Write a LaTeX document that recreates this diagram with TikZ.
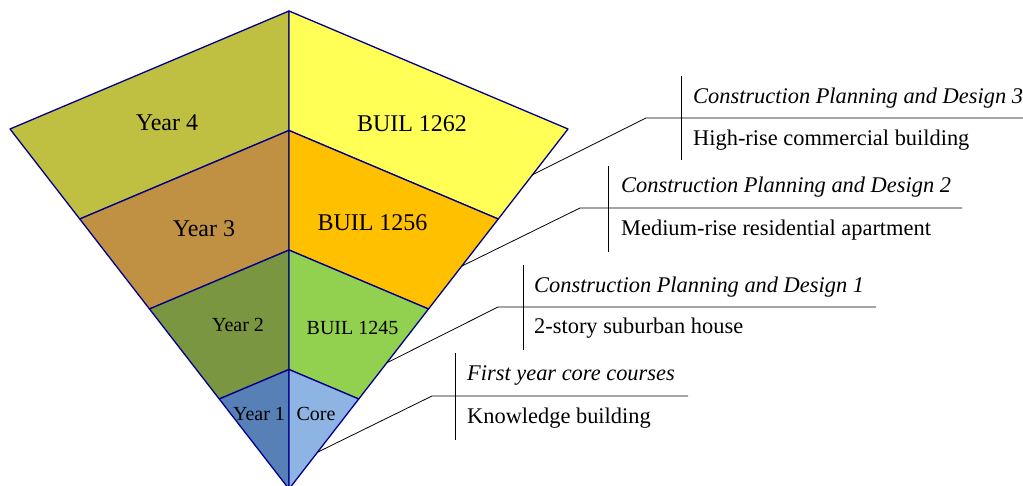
\documentclass[tikz,border=0pt]{standalone}
\usepackage{fontspec}
\setmainfont{Liberation Serif}
\usetikzlibrary{calc}
\definecolor{olive4}{RGB}{191,191,66}
\definecolor{yel4}{RGB}{255,255,85}
\definecolor{brn3}{RGB}{192,145,66}
\definecolor{org3}{RGB}{255,192,0}
\definecolor{grn2}{RGB}{122,150,64}
\definecolor{lgrn2}{RGB}{146,208,80}
\definecolor{blu1}{RGB}{86,128,182}
\definecolor{lblu1}{RGB}{142,180,227}
\definecolor{edge}{RGB}{0,0,140}
\begin{document}
\begin{tikzpicture}[x=1pt,y=-1pt,
  sect/.style={draw=edge,line width=1.3pt,line join=round},
  biglab/.style={inner sep=0pt,font=\fontsize{24}{28}\selectfont},
  smalllab/.style={inner sep=0pt,font=\fontsize{20}{24}\selectfont},
  calltext/.style={inner sep=0pt,anchor=west,font=\fontsize{22.4}{26}\selectfont},
  callline/.style={line width=0.8pt,black}]
\useasboundingbox (0,0) rectangle (1023,486);
% pyramid points
\coordinate (T) at (289,489);
\coordinate (L1) at (10,129);     \coordinate (C1) at (289,11);    \coordinate (R1) at (568,129);
\coordinate (L2) at (79.75,219);  \coordinate (C2) at (289,130.5); \coordinate (R2) at (498.25,219);
\coordinate (L3) at (149.5,309);  \coordinate (C3) at (289,250);   \coordinate (R3) at (428.5,309);
\coordinate (L4) at (219.25,399); \coordinate (C4) at (289,369.5); \coordinate (R4) at (358.75,399);
% sections
\filldraw[sect,fill=olive4] (L1) -- (C1) -- (C2) -- (L2) -- cycle;
\filldraw[sect,fill=yel4]   (R1) -- (C1) -- (C2) -- (R2) -- cycle;
\filldraw[sect,fill=brn3]   (L2) -- (C2) -- (C3) -- (L3) -- cycle;
\filldraw[sect,fill=org3]   (R2) -- (C2) -- (C3) -- (R3) -- cycle;
\filldraw[sect,fill=grn2]   (L3) -- (C3) -- (C4) -- (L4) -- cycle;
\filldraw[sect,fill=lgrn2]  (R3) -- (C3) -- (C4) -- (R4) -- cycle;
\filldraw[sect,fill=blu1]   (L4) -- (C4) -- (T) -- cycle;
\filldraw[sect,fill=lblu1]  (R4) -- (C4) -- (T) -- cycle;
% section labels
\node[biglab] (y4) at (167,123) {Year 4};
\node[biglab] (b4) at (412,124) {BUIL 1262};
\node[biglab] (y3) at (204,229) {Year 3};
\node[biglab] (b3) at (372.5,223) {BUIL 1256};
\node[smalllab] (y2) at (238,325) {Year 2};
\node[smalllab] (b2) at (352.5,328) {BUIL 1245};
\node[smalllab] (y1) at (259,414) {Year 1};
\node[smalllab] (b1) at (316,414) {Core};
% callout 3
\coordinate (e3) at (532,175);
\coordinate (h3a) at (646,118); \coordinate (h3b) at (1023,118);
\coordinate (v3a) at (681,76);  \coordinate (v3b) at (681,160);
\draw[callline] (e3) -- (h3a) -- (h3b);
\draw[callline] (v3a) -- (v3b);
\node[calltext] (c3t) at (693,98) {\itshape Construction Planning and Design 3};
\node[calltext] (c3b) at (693,140) {High-rise commercial building};
% callout 2
\coordinate (e2) at (462,266);
\coordinate (h2a) at (580,208); \coordinate (h2b) at (962,208);
\coordinate (v2a) at (608,166); \coordinate (v2b) at (608,252);
\draw[callline] (e2) -- (h2a) -- (h2b);
\draw[callline] (v2a) -- (v2b);
\node[calltext] (c2t) at (621,187) {\itshape Construction Planning and Design 2};
\node[calltext] (c2b) at (621,230) {Medium-rise residential apartment};
% callout 1
\coordinate (e1) at (386.5,363);
\coordinate (h1a) at (498,307); \coordinate (h1b) at (876,307);
\coordinate (v1a) at (523,265); \coordinate (v1b) at (523,350);
\draw[callline] (e1) -- (h1a) -- (h1b);
\draw[callline] (v1a) -- (v1b);
\node[calltext] (c1t) at (534,287) {\itshape Construction Planning and Design 1};
\node[calltext] (c1b) at (534,328) {2-story suburban house};
% callout 0
\coordinate (e0) at (318,452);
\coordinate (h0a) at (432,396); \coordinate (h0b) at (688,396);
\coordinate (v0a) at (455,353); \coordinate (v0b) at (455,440);
\draw[callline] (e0) -- (h0a) -- (h0b);
\draw[callline] (v0a) -- (v0b);
\node[calltext] (c0t) at (467,376) {\itshape First year core courses};
\node[calltext] (c0b) at (467,418) {Knowledge building};
\end{tikzpicture}
\end{document}
